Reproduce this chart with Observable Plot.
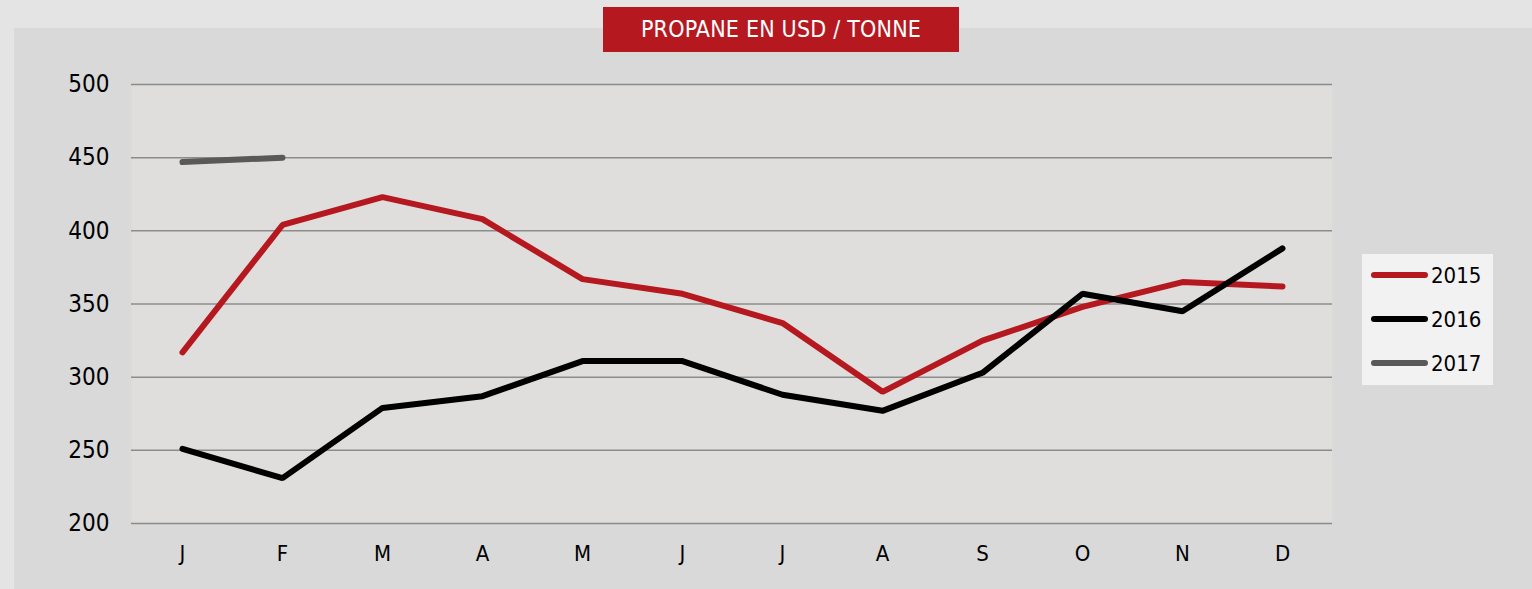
<!DOCTYPE html>
<html>
<head>
<meta charset="utf-8">
<script src="https://cdn.jsdelivr.net/npm/d3@7"></script>
<script src="https://cdn.jsdelivr.net/npm/@observablehq/plot@0.6"></script>
<style>
  html, body { margin: 0; padding: 0; }
  body { width: 1532px; height: 589px; background: #e4e4e4; position: relative; overflow: hidden;
         font-family: "DejaVu Sans Condensed", "DejaVu Sans", sans-serif; }
  #panel { position: absolute; left: 14px; top: 28px; width: 1518px; height: 561px; background: #d9d9d9; }
  #title { position: absolute; left: 603px; top: 7px; width: 356px; height: 45px; background: #b5191f;
           color: #ffffff; font-size: 23px; line-height: 45px; text-align: center; letter-spacing: 0.2px; z-index: 2; }
  #chart { position: absolute; left: 0; top: 0; z-index: 1; }
  #legend { position: absolute; left: 1362px; top: 254px; width: 131px; height: 131px; background: #f2f2f2; z-index: 2; }
  .item { position: absolute; left: 9px; height: 24px; display: flex; align-items: center; font-size: 22px; color: #000; }
  .sw { width: 57px; height: 6px; border-radius: 3px; margin-right: 3px; }
</style>
</head>
<body>
<div id="panel"></div>
<div id="title">PROPANE EN USD / TONNE</div>
<div id="chart"></div>
<div id="legend"></div>
<script>
const months = ["J","F","M","A","M","J","J","A","S","O","N","D"];
const years = ["2015","2016","2017"];
const v2015 = [317, 404, 423, 408, 367, 357, 337, 290, 325, 348, 365, 362];
const v2016 = [251, 231, 279, 287, 311, 311, 288, 277, 303, 357, 345, 388];
const v2017 = [447, 450];
const colors = ["#b5191f", "#000000", "#595959"];
const yTicks = [200, 250, 300, 350, 400, 450, 500];

const seriesValues = [v2015, v2016, v2017];
const data = [];
seriesValues.forEach((vals, s) => {
  vals.forEach((v, i) => data.push({i, v, year: years[s]}));
});
const idx = months.map((_, i) => i);

const chart = Plot.plot({
  width: 1532,
  height: 589,
  marginTop: 84,
  marginBottom: 66,
  marginLeft: 131,
  marginRight: 200,
  style: {background: "transparent", fontFamily: "'DejaVu Sans Condensed', 'DejaVu Sans', sans-serif", color: "#000"},
  x: {type: "point", domain: idx, padding: 0.5},
  y: {domain: [200, 500]},
  color: {domain: years, range: colors},
  marks: [
    Plot.frame({fill: "#dfdedc", stroke: null}),
    Plot.ruleY(yTicks, {stroke: "#8c8c8c", strokeWidth: 1.5}),
    Plot.axisY({ticks: yTicks, tickSize: 0, tickPadding: 22, fontSize: 24, label: null}),
    Plot.axisX({ticks: idx, tickSize: 0, tickPadding: 22, fontSize: 22, label: null, tickFormat: i => months[i]}),
    Plot.line(data, {x: "i", y: "v", z: "year", stroke: "year", strokeWidth: 6, strokeLinecap: "round", strokeLinejoin: "miter"})
  ]
});
document.getElementById("chart").appendChild(chart);

const legend = document.getElementById("legend");
const centers = [21, 65, 109];
years.forEach((y, k) => {
  const it = document.createElement("div");
  it.className = "item";
  it.style.top = (centers[k] - 12) + "px";
  const sw = document.createElement("div");
  sw.className = "sw";
  sw.style.background = colors[k];
  const t = document.createElement("span");
  t.textContent = y;
  it.appendChild(sw);
  it.appendChild(t);
  legend.appendChild(it);
});
</script>
</body>
</html>
